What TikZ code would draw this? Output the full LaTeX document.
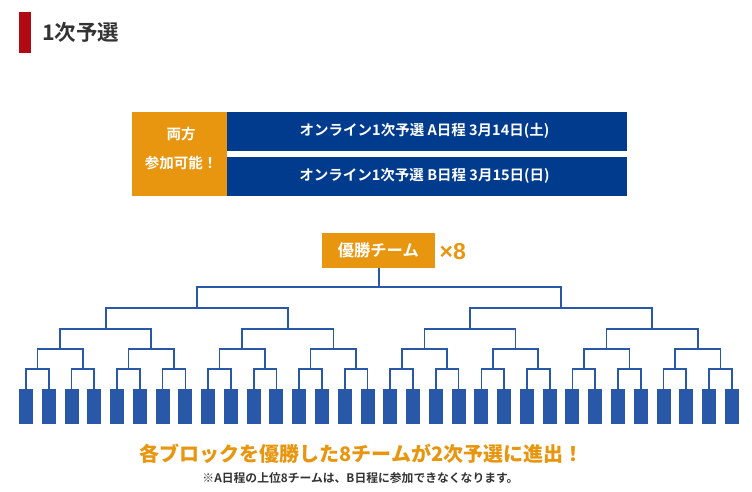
\documentclass[tikz,border=0pt]{standalone}
\usepackage{fontspec}
\setmainfont{Noto Sans CJK JP}[BoldFont={Noto Sans CJK JP Bold}]
\newfontfamily\heavy{Noto Sans CJK JP Black}
\newfontfamily\latinb{Liberation Sans}
\definecolor{hdrred}{HTML}{B00A14}
\definecolor{txtgray}{HTML}{333333}
\definecolor{orng}{HTML}{E8960F}
\definecolor{navy}{HTML}{003B8E}
\definecolor{brblue}{HTML}{2A58A8}
\begin{document}
\begin{tikzpicture}[x=1pt,y=-1pt,
  bar/.style={fill=brblue,draw=none,minimum width=14pt,minimum height=35pt,inner sep=0pt},
  br/.style={draw=brblue,line width=1.7pt},
  blubox/.style={fill=navy,draw=none,minimum width=400pt,minimum height=39pt,inner sep=0pt},
  blutxt/.style={inner sep=0pt,text=white,font=\bfseries\fontsize{14.5}{16}\selectfont},
  orbox/.style={fill=orng,draw=none,inner sep=0pt,text=white,align=center,font=\bfseries\fontsize{14.5}{29}\selectfont}]
\useasboundingbox (0,0) rectangle (752,492);
% header
\node[fill=hdrred,minimum width=11.7pt,minimum height=41.3pt,inner sep=0pt] (hbar) at (24.85,32.65) {};
\node[anchor=west,text=txtgray,font=\bfseries\fontsize{21.5}{24}\selectfont,inner sep=0pt] (htitle) at (42,32) {1次予選};
% top boxes
\node[fill=orng,draw=none,minimum width=95.6pt,minimum height=84pt,inner sep=0pt] (both) at (179.5,153.7) {};
\node[orbox] (bothtxt) at (181,148.5) {両方\\参加可能！};
\node[blubox] (dayA) at (427.3,131.2) {};
\node[blubox] (dayB) at (427.3,176.2) {};
\node[blutxt] (dayAt) at (424.5,131.2) {オンライン1次予選 A日程 3月14日(土)};
\node[blutxt] (dayBt) at (424.5,176.2) {オンライン1次予選 B日程 3月15日(日)};
% champion
\node[fill=orng,draw=none,inner sep=0pt,minimum width=112.6pt,minimum height=34.4pt,text=white,font=\bfseries\fontsize{16.3}{18}\selectfont] (champ) at (378.3,250.5) {優勝チーム};
\node[text=orng,font=\latinb\bfseries\fontsize{23}{26}\selectfont,inner sep=0pt,anchor=west] (times) at (439.5,252) {×8};
% bars
\foreach \i in {1,...,32} \node[bar] (b\i) at ({26+22.77*(\i-1)},406.5) {};
% level coordinates
\foreach \j in {1,...,16} \coordinate (m1-\j) at ({26+22.77*(2*\j-2+0.5)},369.3);
\foreach \j in {1,...,8} \coordinate (m2-\j) at ({26+22.77*(4*\j-4+1.5)},349);
\foreach \j in {1,...,4} \coordinate (m3-\j) at ({26+22.77*(8*\j-8+3.5)},328.7);
\foreach \j in {1,...,2} \coordinate (m4-\j) at ({26+22.77*(16*\j-16+7.5)},307.7);
\coordinate (m5-1) at ({26+22.77*15.5},287);
% connectors
\foreach \j [evaluate=\j as \a using int(2*\j-1), evaluate=\j as \b using int(2*\j)] in {1,...,16}
  \draw[br] (b\a.north) |- (m1-\j) -| (b\b.north);
\foreach \j [evaluate=\j as \a using int(2*\j-1), evaluate=\j as \b using int(2*\j)] in {1,...,8}
  \draw[br] (m1-\a) |- (m2-\j) -| (m1-\b);
\foreach \j [evaluate=\j as \a using int(2*\j-1), evaluate=\j as \b using int(2*\j)] in {1,...,4}
  \draw[br] (m2-\a) |- (m3-\j) -| (m2-\b);
\foreach \j [evaluate=\j as \a using int(2*\j-1), evaluate=\j as \b using int(2*\j)] in {1,...,2}
  \draw[br] (m3-\a) |- (m4-\j) -| (m3-\b);
\draw[br] (m4-1) |- (m5-1) -| (m4-2);
\draw[br] (m5-1) -- (m5-1 |- champ.south);
% bottom text
\node[text=orng,font=\heavy\fontsize{20}{24}\selectfont,inner sep=0pt] (msg) at (361.5,454) {各ブロックを優勝した8チームが2次予選に進出！};
\node[text=txtgray,font=\bfseries\fontsize{11.8}{14}\selectfont,inner sep=0pt] (note) at (360.5,478) {※A日程の上位8チームは、B日程に参加できなくなります。};
\end{tikzpicture}
\end{document}
